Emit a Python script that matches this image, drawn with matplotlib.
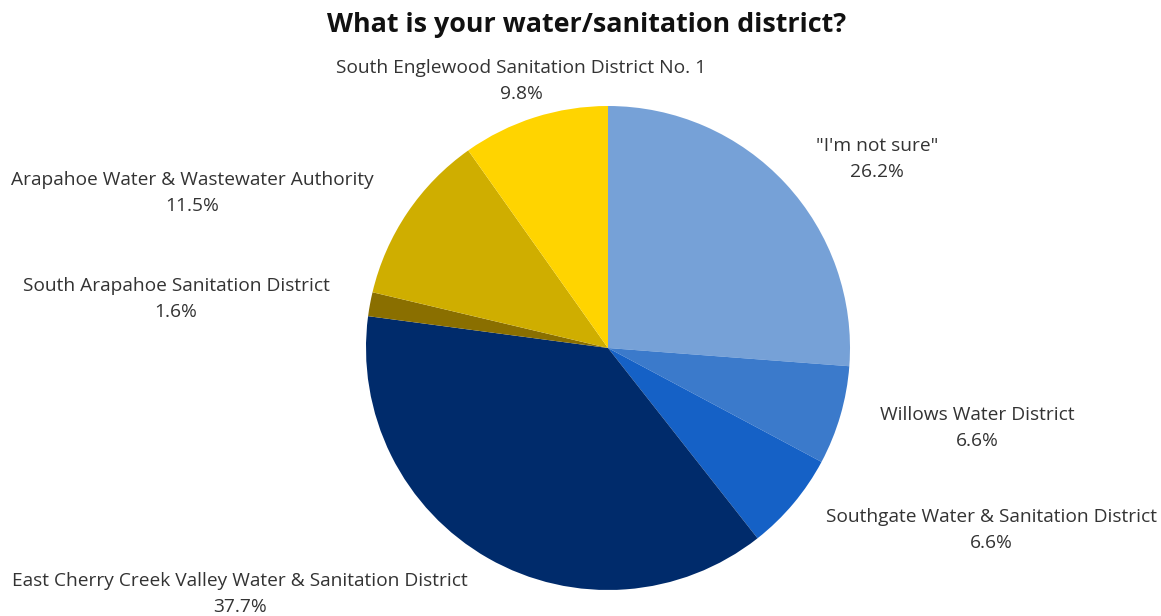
import matplotlib.pyplot as plt

plt.rcParams['font.family'] = ['Open Sans', 'DejaVu Sans']

# survey answers, clockwise from 12 o'clock
districts = ['"I\'m not sure"', 'Willows Water District',
             'Southgate Water & Sanitation District',
             'East Cherry Creek Valley Water & Sanitation District',
             'South Arapahoe Sanitation District',
             'Arapahoe Water & Wastewater Authority',
             'South Englewood Sanitation District No. 1']
shares = [26.2, 6.6, 6.6, 37.7, 1.6, 11.5, 9.8]
colors = ['#76A1D7', '#3B7ACB', '#1561C6', '#002B6B', '#8A6F00', '#CFAE00', '#FFD400']

# label centres in pixels (x from left, y from top)
label_pos = [(877, 159), (977, 428), (991, 530), (240, 594),
             (176, 299), (192, 193), (521, 81)]

W, H = 1161, 616
fig = plt.figure(figsize=(W / 100, H / 100), dpi=100)
ax = fig.add_axes([0, 0, 1, 1])

ax.pie(shares, colors=colors, startangle=90, counterclock=False,
       center=(608, H - 348), radius=242,
       wedgeprops=dict(linewidth=0))

# pie() resets the limits, so fix them afterwards
ax.set_xlim(0, W)
ax.set_ylim(0, H)
ax.set_aspect('equal')
ax.axis('off')

for name, val, (px, py) in zip(districts, shares, label_pos):
    ax.text(px, H - py, f'{name}\n{val}%', ha='center', va='center',
            fontsize=13.8, color='#333333', linespacing=1.55)

ax.text(587, H - 25, 'What is your water/sanitation district?', ha='center',
        va='center', fontsize=19.4, fontweight='bold', color='#111111')

fig.savefig('out.png', dpi=100)
